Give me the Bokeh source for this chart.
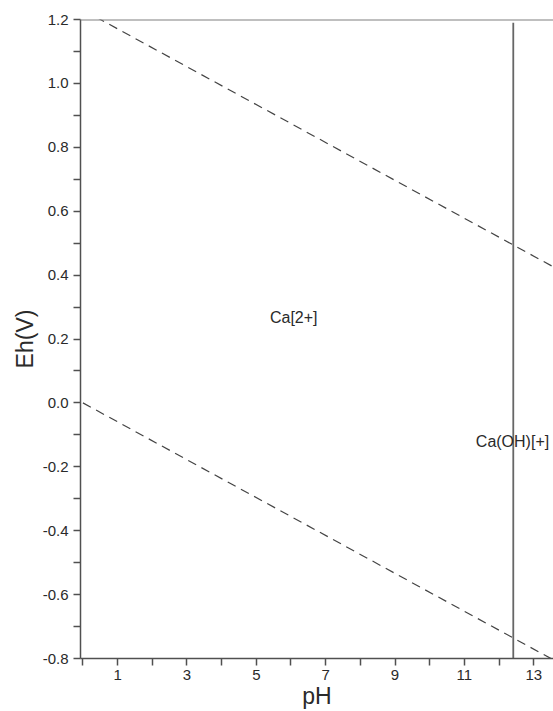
from bokeh.plotting import figure
from bokeh.models import FixedTicker, Label, Span
from bokeh.embed import file_html
from bokeh.resources import INLINE

# Data
upper_ph = [0.0, 14.0]
upper_eh = [1.23, 0.40]
lower_ph = [0.0, 14.0]
lower_eh = [0.0, -0.83]
boundary_ph = [12.41, 12.41]
boundary_eh = [-0.8, 1.19]
top_eh = 1.2
species = ["Ca[2+]", "Ca(OH)[+]"]
species_ph = [6.08, 11.33]
species_eh = [0.268, -0.121]
x_major = [1, 3, 5, 7, 9, 11, 13]
x_minor = [0, 2, 4, 6, 8, 10, 12, 14]
y_major = [-0.8, -0.6, -0.4, -0.2, 0.0, 0.2, 0.4, 0.6, 0.8, 1.0, 1.2]
y_minor = [-0.7, -0.5, -0.3, -0.1, 0.1, 0.3, 0.5, 0.7, 0.9, 1.1]

FONT = "Liberation Sans"
TXT = "#2a2a2a"

p = figure(width=553, height=711, x_range=(-0.07, 13.57), y_range=(-0.8, 1.2),
           output_backend="svg", toolbar_location=None,
           min_border_left=80, min_border_right=0, min_border_top=19, min_border_bottom=50)
p.outline_line_color = None
p.xgrid.visible = False
p.ygrid.visible = False
p.background_fill_color = "white"
p.border_fill_color = "white"

for ax in (p.xaxis[0], p.yaxis[0]):
    ax.axis_line_color = "#505050"
    ax.axis_line_width = 1.5
    ax.major_tick_line_color = "#505050"
    ax.minor_tick_line_color = "#505050"
    ax.major_tick_line_width = 1.5
    ax.minor_tick_line_width = 1.5
    ax.major_tick_out = 7
    ax.minor_tick_out = 7
    ax.major_tick_in = 0
    ax.minor_tick_in = 0
    ax.major_label_text_font = FONT
    ax.major_label_text_font_size = "15px"
    ax.major_label_text_color = TXT
    ax.axis_label_text_font = FONT
    ax.axis_label_text_font_size = "23px"
    ax.axis_label_text_font_style = "normal"
    ax.axis_label_text_color = TXT

p.xaxis[0].ticker = FixedTicker(ticks=x_major, minor_ticks=x_minor)
p.yaxis[0].ticker = FixedTicker(ticks=y_major, minor_ticks=y_minor)
p.xaxis[0].major_label_standoff = 4
p.yaxis[0].major_label_standoff = 5
p.yaxis[0].major_label_overrides = {v: f"{v:.1f}" for v in y_major}
p.xaxis[0].axis_label = "pH"
p.yaxis[0].axis_label = "Eh(V)"
p.xaxis[0].axis_label_standoff = 0
p.yaxis[0].axis_label_standoff = 2

p.add_layout(Span(location=top_eh, dimension="width", line_color="#808080", line_width=2))

p.line(upper_ph, upper_eh, line_color="#444444", line_width=1.2, line_dash="9 6")
p.line(lower_ph, lower_eh, line_color="#444444", line_width=1.2, line_dash="9 6")
p.line(boundary_ph, boundary_eh, line_color="#666666", line_width=1.8)

for name, x, y in zip(species, species_ph, species_eh):
    align = "center" if name == "Ca[2+]" else "left"
    p.add_layout(Label(x=x, y=y, text=name, text_font=FONT, text_font_size="16px",
                       text_color=TXT, text_align=align, text_baseline="middle"))

open("out.html", "w").write(file_html(p, INLINE))
